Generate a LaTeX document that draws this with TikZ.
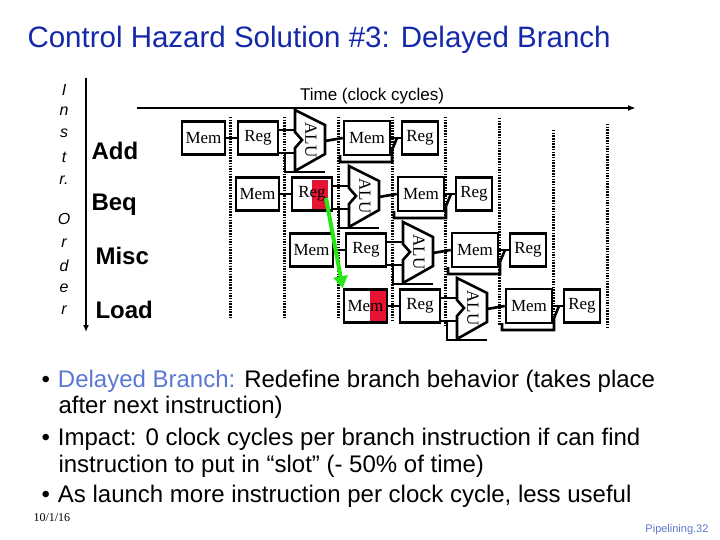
\documentclass[tikz,border=0pt]{standalone}
\usepackage{fontspec}
\setmainfont{Liberation Sans}
\newfontfamily\serf{Liberation Serif}
\usetikzlibrary{arrows.meta}
\definecolor{titleblue}{RGB}{20,40,170}
\definecolor{lightblue}{RGB}{90,120,210}
\definecolor{hred}{RGB}{230,20,50}
\definecolor{hgreen}{RGB}{40,230,20}
\tikzset{
  stagebox/.style={draw,line width=2.6pt,minimum height=33pt,inner sep=0pt,font=\serf\fontsize{17}{17}\selectfont},
  wire/.style={line width=2.6pt},
  dots/.style={line width=3pt,dash pattern=on 1.5pt off 1.2pt},
  instr/.style={font=\bfseries\fontsize{24}{24}\selectfont,anchor=west},
  vlet/.style={font=\itshape\fontsize{16}{16}\selectfont},
  bullet/.style={font=\fontsize{24}{24}\selectfont,anchor=west}
}
\begin{document}
\begin{tikzpicture}[x=1pt,y=-1pt]
\useasboundingbox (0,0) rectangle (720,540);
\node[anchor=west,text=titleblue,font=\fontsize{29.5}{29.5}\selectfont] (title) at (24,40) {Control Hazard Solution \#3: Delayed Branch};
% instr order
\foreach \l/\y [count=\k] in {I/90,n/111,s/133,t/157,r./180,O/219,r/243,d/266,e/288,r/310}
  \node[vlet] (v\k) at (64,\y) {\l};
\coordinate (vt) at (86,78); \coordinate (vb) at (86,332);
\draw[line width=2.2pt,-{Latex[length=7pt,width=6pt]}] (vt) -- (vb);
\node[instr] (iadd) at (88,151) {Add};
\node[instr] (ibeq) at (88,205) {Beq};
\node[instr] (imisc) at (92,256) {Misc};
\node[instr] (iload) at (92,310) {Load};
% time
\node[font=\fontsize{17}{17}\selectfont] (time) at (372,96) {Time (clock cycles)};
\coordinate (tl) at (137,108); \coordinate (tr) at (636,108);
\draw[line width=2.4pt,-{Latex[length=8pt,width=6pt]}] (tl) -- (tr);
% highlights (under boxes)
\fill[hred] (312,180) rectangle (328,211);
\fill[hred] (370,290) rectangle (388,322);
% dotted lines
\foreach \x/\a/\b [count=\k] in {230/117/318,284/117/318,338/117/318,392/117/320,445/117/325,499/118/325,553/130/322,607/124/328}{
  \coordinate (da\k) at (\x,\a); \coordinate (db\k) at (\x,\b);
  \draw[dots] (da\k) -- (db\k);
}
% pipeline rows
\foreach \i in {0,1,2,3}{
 \pgfmathsetmacro{\dx}{54*\i}
 \pgfmathsetmacro{\cy}{138+56*\i}
 \begin{scope}[shift={(\dx,\cy)}]
  \node[stagebox,minimum width=43pt] (ma\i) at (203.5,0) {Mem};
  \node[stagebox,minimum width=40pt] (ra\i) at (258,0) {Reg};
  \draw[line width=2.6pt,fill=white] (295,-28) -- (325,-13) -- (325,16) -- (295,33) -- (295,10) -- (302,2) -- (295,-6) -- cycle;
  \node[rotate=-90,font=\serf\fontsize{17}{17}\selectfont] (alu\i) at (311,2) {ALU};
  \node[stagebox,minimum width=46pt,minimum height=34pt] (mb\i) at (367,0) {Mem};
  \node[stagebox,minimum width=36pt] (rb\i) at (420,0) {Reg};
  \draw[wire] (ma\i.east) -- (ra\i.west);
  \draw[wire] (ra\i.east|-0,-8) -- (295,-8);
  \draw[wire] (ra\i.east|-0,15) -- (295,15);
  \draw[wire] (285,15) -- (285,34) -- (325,34);
  \draw[wire] (325,3) -- (mb\i.west);
  \draw[wire] (340,17) -- (340,24) -- (392,24) -- (392,12) -- (397,0);
  \draw[wire] (mb\i.east) -- (rb\i.west);
 \end{scope}
}
\coordinate (gs) at (326,198);
\draw[hgreen,line width=4pt,-{Triangle[length=12pt,width=14pt]}] (gs) -- (ma3.north west);
% bullets
\node[bullet] (b1) at (38,381) {\textbullet\hspace{8pt}\textcolor{lightblue}{Delayed Branch:} Redefine branch behavior (takes place};
\node[bullet] (b1b) at (55,407) {after next instruction)};
\node[bullet] (b2) at (38,439) {\textbullet\hspace{8pt}Impact: 0 clock cycles per branch instruction if can find};
\node[bullet] (b2b) at (55,466) {instruction to put in “slot” (- 50\% of time)};
\node[bullet] (b3) at (38,496) {\textbullet\hspace{8pt}As launch more instruction per clock cycle, less useful};
\node[anchor=west,font=\serf\fontsize{12}{12}\selectfont] (date) at (30,518) {10/1/16};
\node[anchor=east,text=lightblue,font=\fontsize{11}{11}\selectfont] (pg) at (712,530) {Pipelining.32};
\end{tikzpicture}
\end{document}
